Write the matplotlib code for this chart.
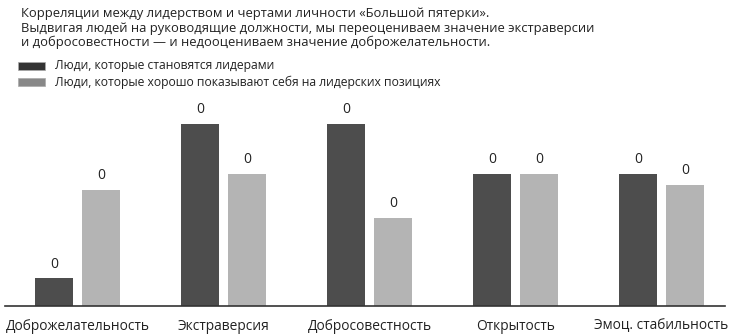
import numpy as np
import matplotlib
matplotlib.use('Agg')
import matplotlib.pyplot as plt
from matplotlib.patches import Rectangle

plt.rcParams['font.family'] = ['Open Sans', 'DejaVu Sans']

traits = ['Доброжелательность', 'Экстраверсия', 'Добросовестность',
          'Открытость', 'Эмоц. стабильность']
emergence = [0.05, 0.33, 0.33, 0.24, 0.24]
effectiveness = [0.21, 0.24, 0.16, 0.24, 0.22]

title_lines = [
    'Корреляции между лидерством и чертами личности «Большой пятерки».',
    'Выдвигая людей на руководящие должности, мы переоцениваем значение экстраверсии',
    'и добросовестности — и недооцениваем значение доброжелательности.',
]
legend_labels = ['Люди, которые становятся лидерами',
                 'Люди, которые хорошо показывают себя на лидерских позициях']

bar_dark = '#4d4d4d'
bar_light = '#b4b4b4'
swatch_colors = ['#333333', '#888888']

fig = plt.figure(figsize=(7.34, 3.36), dpi=100)
ax = fig.add_axes([5 / 734, 30 / 336, 720 / 734, 206 / 336])

x = np.arange(len(traits))
w = 0.26
off = 0.161
b1 = ax.bar(x - off, emergence, w, color=bar_dark)
b2 = ax.bar(x + off, effectiveness, w, color=bar_light)
for bars in (b1, b2):
    ax.bar_label(bars, fmt='{:.0f}', padding=5, fontsize=10, color='#222222')

ax.set_xlim(-0.497, 4.435)
ax.set_ylim(0, 0.374)
ax.set_xticks(x)
ax.set_xticklabels(traits, fontsize=9.9)
ax.tick_params(axis='x', length=0, pad=9, colors='#222222')
ax.set_yticks([])
for s in ('top', 'right', 'left'):
    ax.spines[s].set_visible(False)
ax.spines['bottom'].set_color('#333333')
ax.spines['bottom'].set_linewidth(1.2)

# header text and legend
for i, line in enumerate(title_lines):
    fig.text(21 / 734, 1 - (14 + 14.2 * i) / 336, line, fontsize=9.4,
             va='center', ha='left', color='#222222')
for i, (lab, c) in enumerate(zip(legend_labels, swatch_colors)):
    yc = 66 + 16 * i
    fig.add_artist(Rectangle((18 / 734, 1 - (yc + 4) / 336), 27 / 734, 8 / 336,
                             transform=fig.transFigure, facecolor=c,
                             edgecolor='#aaaaaa', linewidth=0.5))
    fig.text(55 / 734, 1 - yc / 336, lab, fontsize=8.75, va='center',
             ha='left', color='#222222')

fig.savefig('out.png', dpi=100)
